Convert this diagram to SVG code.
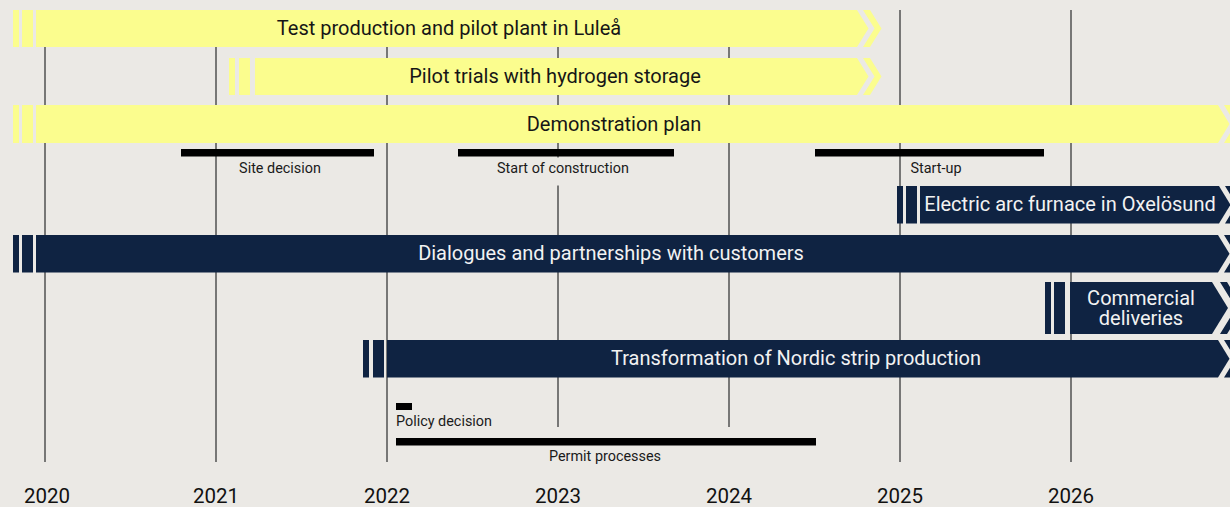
<svg xmlns="http://www.w3.org/2000/svg" width="1230" height="507" viewBox="0 0 1230 507">
<style>
.bg{fill:#ebe9e5}
.grid{stroke:#505050;stroke-width:1.5;fill:none}
.y{fill:#fbfd8e}
.n{fill:#0f2342}
.blk{fill:#000}
.tb{font-family:Roboto,"Liberation Sans",sans-serif;font-size:20px;fill:#161616;text-anchor:middle}
.tw{font-family:Roboto,"Liberation Sans",sans-serif;font-size:20px;fill:#f2f2f2;text-anchor:middle}
.ts{font-family:Roboto,"Liberation Sans",sans-serif;font-size:14.4px;fill:#1a1a1a;text-anchor:middle}
.yr{font-family:Roboto,"Liberation Sans",sans-serif;font-size:20.5px;fill:#111;text-anchor:middle}
</style>
<rect class="bg" x="0" y="0" width="1230" height="507"/>
<g id="grid">
<line class="grid" x1="45" y1="10" x2="45" y2="462"/>
<line class="grid" x1="216" y1="10" x2="216" y2="462"/>
<line class="grid" x1="387" y1="10" x2="387" y2="462"/>
<line class="grid" x1="558" y1="10" x2="558" y2="427"/>
<line class="grid" x1="729" y1="10" x2="729" y2="427"/>
<line class="grid" x1="900" y1="10" x2="900" y2="462"/>
<line class="grid" x1="1071" y1="10" x2="1071" y2="462"/>
</g>
<g id="bar1">
<rect class="y" x="13" y="10" width="6" height="37"/>
<rect class="y" x="22" y="10" width="11" height="37"/>
<polygon class="y" points="36,10 857,10 868.5,28.5 857,47 36,47"/>
<polygon class="y" points="863,10 870,10 881.5,28.5 870,47 863,47 874.5,28.5"/>
<text class="tb" x="449" y="35">Test production and pilot plant in Luleå</text>
</g>
<g id="bar2">
<rect class="y" x="229" y="58" width="6" height="37"/>
<rect class="y" x="239" y="58" width="11" height="37"/>
<polygon class="y" points="255,58 857,58 868.5,76.5 857,95 255,95"/>
<polygon class="y" points="863,58 870,58 881.5,76.5 870,95 863,95 874.5,76.5"/>
<text class="tb" x="555" y="83">Pilot trials with hydrogen storage</text>
</g>
<g id="bar3">
<rect class="y" x="13" y="105" width="6" height="38"/>
<rect class="y" x="22" y="105" width="11" height="38"/>
<polygon class="y" points="36,105 1218,105 1229.5,124 1218,143 36,143"/>
<polygon class="y" points="1224,105 1231,105 1242.5,124 1231,143 1224,143 1235.5,124"/>
<text class="tb" x="614" y="130.5">Demonstration plan</text>
</g>
<g id="milestones">
<rect class="blk" x="181" y="149" width="193" height="7.5"/>
<text class="ts" x="280" y="173">Site decision</text>
<rect class="blk" x="458" y="149" width="216" height="7.5"/>
<rect class="bg" x="490" y="157.5" width="145" height="28"/>
<text class="ts" x="563" y="173">Start of construction</text>
<rect class="blk" x="815" y="149" width="229" height="7.5"/>
<text class="ts" x="936" y="173">Start-up</text>
</g>
<g id="bar4">
<rect class="n" x="897" y="186" width="6" height="37.5"/>
<rect class="n" x="906" y="186" width="11" height="37.5"/>
<polygon class="n" points="920,186 1219,186 1230.5,204.75 1219,223.5 920,223.5"/>
<polygon class="n" points="1225,186 1232,186 1243.5,204.75 1232,223.5 1225,223.5 1236.5,204.75"/>
<text class="tw" x="1070" y="211">Electric arc furnace in Oxelösund</text>
</g>
<g id="bar5">
<rect class="n" x="13" y="235" width="6" height="37.5"/>
<rect class="n" x="22" y="235" width="11" height="37.5"/>
<polygon class="n" points="36,235 1218,235 1229.5,253.75 1218,272.5 36,272.5"/>
<polygon class="n" points="1224,235 1231,235 1242.5,253.75 1231,272.5 1224,272.5 1235.5,253.75"/>
<text class="tw" x="611" y="260">Dialogues and partnerships with customers</text>
</g>
<g id="bar6">
<rect class="n" x="1045" y="282" width="6" height="52"/>
<rect class="n" x="1054" y="282" width="11" height="52"/>
<polygon class="n" points="1070,282 1212,282 1228,308 1212,334 1070,334"/>
<polygon class="n" points="1220,282 1227,282 1243,308 1227,334 1220,334 1236,308"/>
<text class="tw" x="1141" y="305">Commercial</text>
<text class="tw" x="1141" y="325">deliveries</text>
</g>
<g id="bar7">
<rect class="n" x="363" y="340" width="6" height="37.5"/>
<rect class="n" x="373" y="340" width="11" height="37.5"/>
<polygon class="n" points="387,340 1218,340 1229.5,358.75 1218,377.5 387,377.5"/>
<polygon class="n" points="1224,340 1231,340 1242.5,358.75 1231,377.5 1224,377.5 1235.5,358.75"/>
<text class="tw" x="796" y="365">Transformation of Nordic strip production</text>
</g>
<g id="policy">
<rect class="blk" x="396" y="403" width="16" height="7"/>
<text class="ts" x="396" y="426" style="text-anchor:start">Policy decision</text>
</g>
<g id="permit">
<rect class="blk" x="396" y="438" width="420" height="7.5"/>
<text class="ts" x="605" y="461">Permit processes</text>
</g>
<g id="years">
<text class="yr" x="47" y="503">2020</text>
<text class="yr" x="216" y="503">2021</text>
<text class="yr" x="387" y="503">2022</text>
<text class="yr" x="558" y="503">2023</text>
<text class="yr" x="729" y="503">2024</text>
<text class="yr" x="900" y="503">2025</text>
<text class="yr" x="1071" y="503">2026</text>
</g>
</svg>
